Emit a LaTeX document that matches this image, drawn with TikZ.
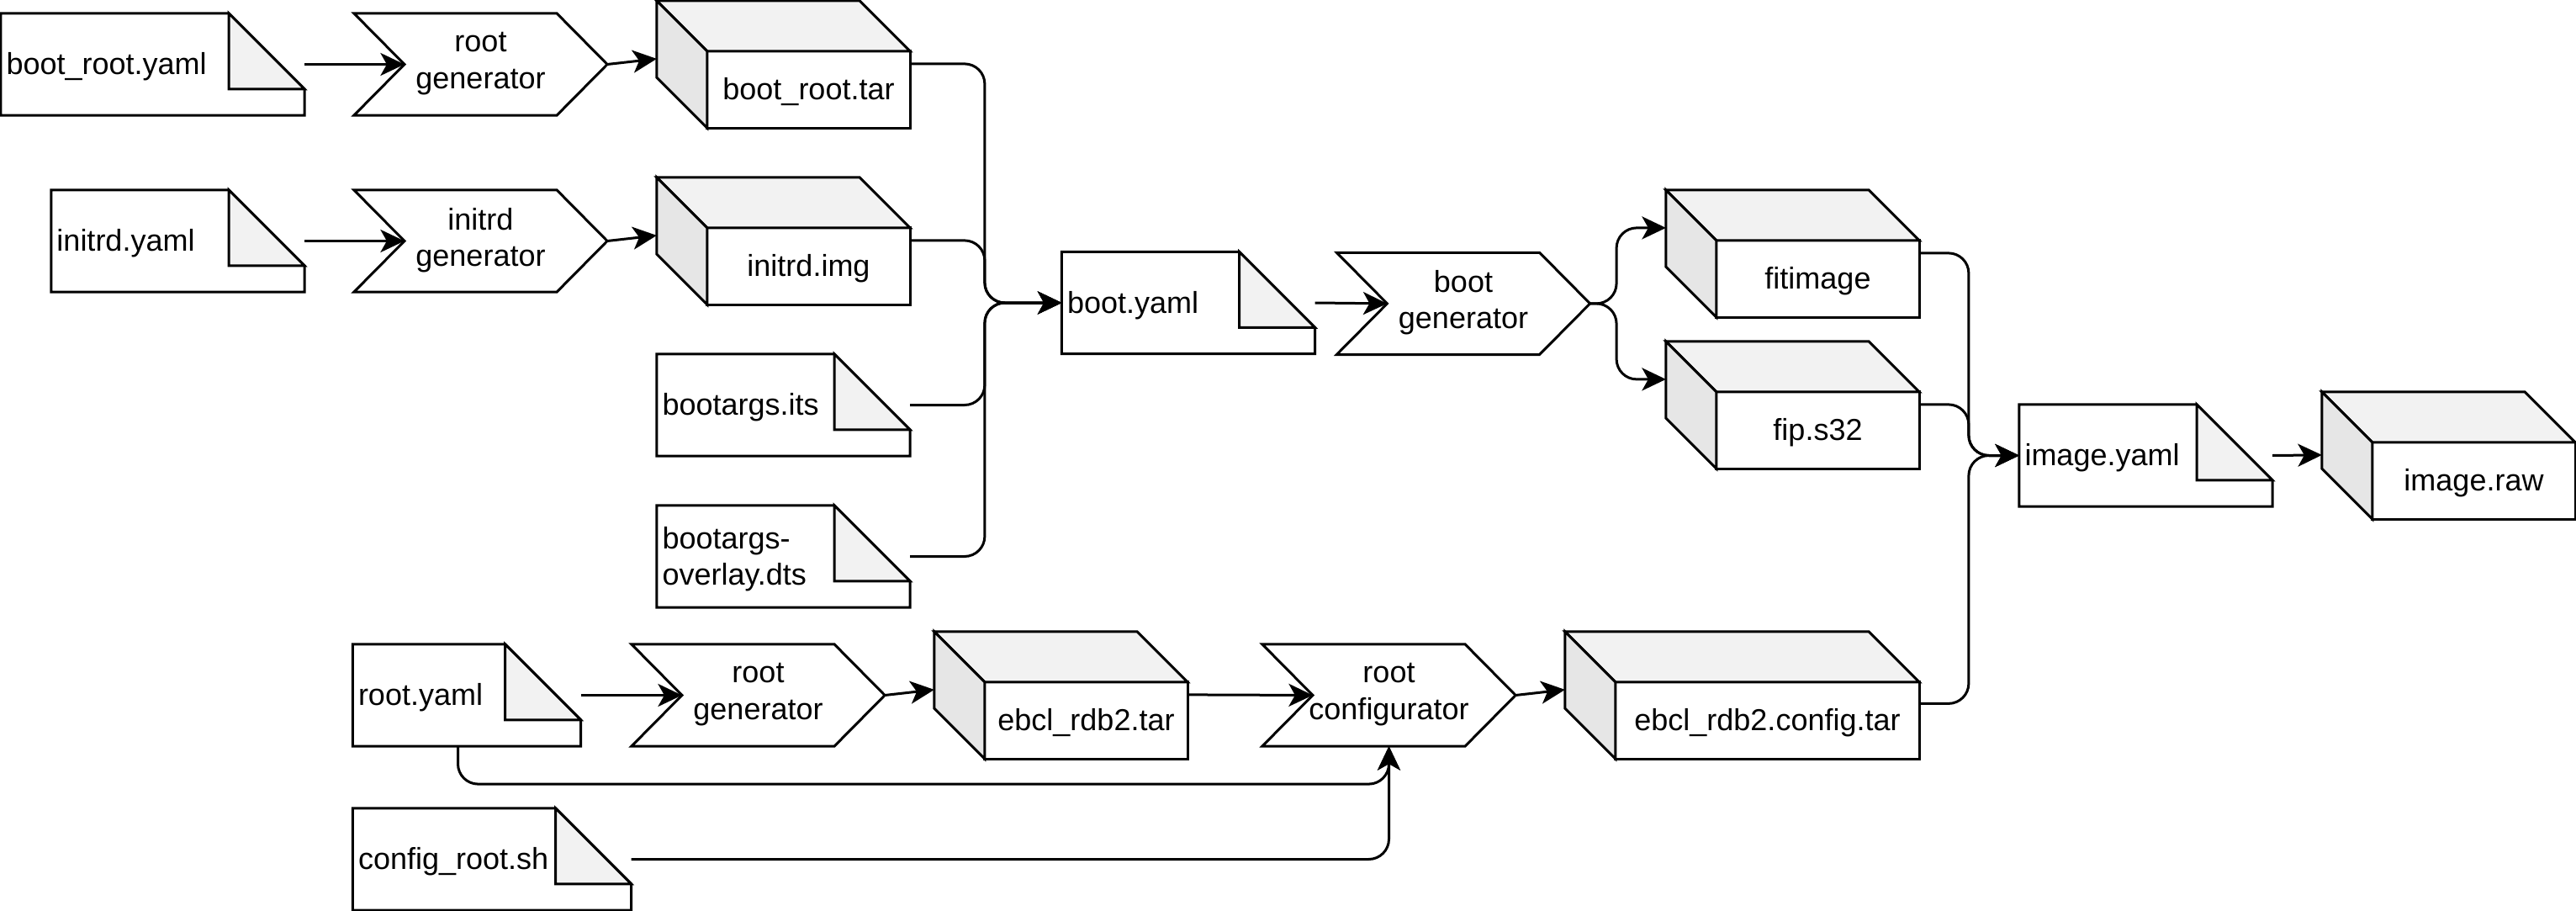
\documentclass[tikz,border=0pt]{standalone}
\usepackage{fontspec}
\setmainfont{Liberation Sans}
\usetikzlibrary{calc,arrows.meta,backgrounds}
\definecolor{topgray}{HTML}{F2F2F2}
\definecolor{sidegray}{HTML}{E6E6E6}
\definecolor{foldgray}{HTML}{F2F2F2}
\newcommand\linestrut{\rule[-3.04pt]{0pt}{14.4pt}}
\tikzset{
  x=1pt, y=-1pt,
  every node/.style={font=\fontsize{12}{14.4}\selectfont, execute at begin node=\linestrut, execute at end node=\linestrut},
  shapeline/.style={line width=1pt, draw=black, line join=miter},
  doc/.style n args={2}{inner sep=0pt, minimum height=40pt, minimum width=#1, text width=#2, align=left},
  chev/.style={inner sep=0pt, minimum width=100pt, minimum height=40pt, align=center},
  cubef/.style={inner sep=0pt, minimum width=#1, minimum height=30pt, align=center},
  conn/.style={line width=1pt, rounded corners=8pt, -{Stealth[length=9.5pt,width=9pt,inset=2.5pt]}},
}
\newcommand\docshape[1]{%
  \filldraw[shapeline, fill=white] (#1.north west) -- ($(#1.north east)+(-30,0)$) -- ($(#1.north east)+(0,30)$) -- (#1.south east) -- (#1.south west) -- cycle;
  \filldraw[shapeline, fill=foldgray] ($(#1.north east)+(-30,0)$) -- ($(#1.north east)+(-30,30)$) -- ($(#1.north east)+(0,30)$) -- cycle;
}
\newcommand\chevshape[1]{%
  \filldraw[shapeline, fill=white] (#1.north west) -- ($(#1.north east)+(-20,0)$) -- (#1.east) -- ($(#1.south east)+(-20,0)$) -- (#1.south west) -- ($(#1.west)+(20,0)$) -- cycle;
}
\newcommand\cubeshape[1]{%
  \filldraw[shapeline, fill=white] (#1.north west) rectangle (#1.south east);
  \filldraw[shapeline, fill=topgray] (#1.north west) -- ($(#1.north west)+(-20,-20)$) -- ($(#1.north east)+(-20,-20)$) -- (#1.north east) -- cycle;
  \filldraw[shapeline, fill=sidegray] (#1.north west) -- ($(#1.north west)+(-20,-20)$) -- ($(#1.south west)+(-20,-20)$) -- (#1.south west) -- cycle;
}
\begin{document}
\begin{tikzpicture}
\useasboundingbox (0,0) rectangle (1021,361);

% documents
\node[doc={120pt}{116pt}] (nBR) at (60.5,25.5) {boot\_root.yaml};
\node[doc={100pt}{96pt}] (nIY) at (70.5,95.5) {initrd.yaml};
\node[doc={100pt}{96pt}] (nBA) at (310.5,160.5) {bootargs.its};
\node[doc={100pt}{96pt}] (nBO) at (310.5,220.5) {bootargs-\\overlay.dts};
\node[doc={100pt}{96pt}] (nBY) at (471,120) {boot.yaml};
\node[doc={100pt}{96pt}] (nIM) at (850.5,180.5) {image.yaml};
\node[doc={90pt}{86pt}] (nRY) at (185,275.5) {root.yaml};
\node[doc={110pt}{106pt}] (nCR) at (195,340.5) {config\_root.sh};

% processes
\node[chev] (cRG1) at (190.5,25.5) {root\\generator};
\node[chev] (cIG) at (190.5,95.5) {initrd\\generator};
\node[chev] (cBG) at (580,120.3) {boot\\generator};
\node[chev] (cRG2) at (300.5,275.5) {root\\generator};
\node[chev] (cRC) at (550.5,275.5) {root\\configurator};

% artifacts (front faces of cubes)
\node[cubef=80pt] (kBRT) at (320.5,35.5) {boot\_root.tar};
\node[cubef=80pt] (kII) at (320.5,105.5) {initrd.img};
\node[cubef=80pt] (kFI) at (720.5,110.5) {fitimage};
\node[cubef=80pt] (kFS) at (720.5,170.5) {fip.s32};
\node[cubef=80pt] (kIR) at (980.5,190.5) {image.raw};
\node[cubef=80pt] (kER) at (430.5,285.5) {ebcl\_rdb2.tar};
\node[cubef=120pt] (kEC) at (700.5,285.5) {ebcl\_rdb2.config.tar};

\begin{pgfonlayer}{background}
  \fill[white] (0,0) rectangle (1021,361);
  \foreach \n in {nBR,nIY,nBA,nBO,nBY,nIM,nRY,nCR} {\docshape{\n}}
  \foreach \n in {cRG1,cIG,cBG,cRG2,cRC} {\chevshape{\n}}
  \foreach \n in {kBRT,kII,kFI,kFS,kIR,kER,kEC} {\cubeshape{\n}}
\end{pgfonlayer}

% connectors
\draw[conn] (nBR.east) -- ($(cRG1.west)+(20,0)$);
\draw[conn] (cRG1.east) -- ($(kBRT.north west)+(-20,3)$);
\draw[conn] (nIY.east) -- ($(cIG.west)+(20,0)$);
\draw[conn] (cIG.east) -- ($(kII.north west)+(-20,3)$);

\draw[conn] ($(kBRT.north east)+(0,5)$) -| ($(nBY.west)+(-30.5,0)$) -- (nBY.west);
\draw[conn] ($(kII.north east)+(0,5)$) -| ($(nBY.west)+(-30.5,0)$) -- (nBY.west);
\draw[conn] (nBA.east) -| ($(nBY.west)+(-30.5,0)$) -- (nBY.west);
\draw[conn] (nBO.east) -| ($(nBY.west)+(-30.5,0)$) -- (nBY.west);

\draw[conn] (nBY.east) -- ($(cBG.west)+(20,0)$);
\draw[conn] (cBG.east) -- ++(10.5,0) |- ($(kFI.north west)+(-20,-5)$);
\draw[conn] (cBG.east) -- ++(10.5,0) |- ($(kFS.north west)+(-20,-5)$);

\draw[conn] ($(kFI.north east)+(0,5)$) -| ($(nIM.west)+(-20,0)$) -- (nIM.west);
\draw[conn] ($(kFS.north east)+(0,5)$) -| ($(nIM.west)+(-20,0)$) -- (nIM.west);
\draw[conn] ($(kEC.north east)+(0,8.5)$) -| ($(nIM.west)+(-20,0)$) -- (nIM.west);
\draw[conn] (nIM.east) -- ($(kIR.north west)+(-20,5)$);

\draw[conn] (nRY.east) -- ($(cRG2.west)+(20,0)$);
\draw[conn] (cRG2.east) -- ($(kER.north west)+(-20,3)$);
\draw[conn] ($(kER.north east)+(0,5)$) -- ($(cRC.west)+(20,0)$);
\draw[conn] (cRC.east) -- ($(kEC.north west)+(-20,3)$);
\draw[conn] ($(nRY.south)+(-3.5,0)$) -- ++(0,15) -| (cRC.south);
\draw[conn] (nCR.east) -| (cRC.south);
\end{tikzpicture}
\end{document}
